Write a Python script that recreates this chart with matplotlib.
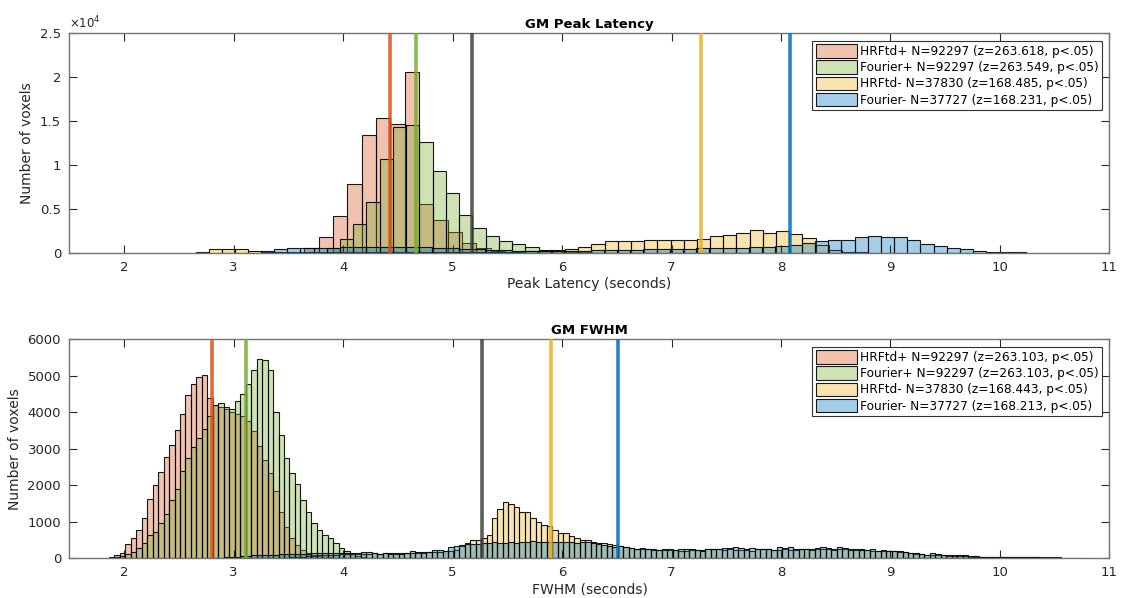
import numpy as np
import matplotlib
matplotlib.use("Agg")
import matplotlib.pyplot as plt

plt.rcParams['font.family'] = ['DejaVu Sans']

# ---------------- data: GM Peak Latency ----------------
lat_labels = ['HRFtd+ N=92297 (z=263.618, p<.05)',
              'Fourier+ N=92297 (z=263.549, p<.05)',
              'HRFtd- N=37830 (z=168.485, p<.05)',
              'Fourier- N=37727 (z=168.231, p<.05)']
# bins: first edge, bin width, counts
lat_hrftd_pos_start, lat_hrftd_pos_width = 3.645, 0.131
lat_hrftd_pos = [500, 1750, 4200, 7800, 13400, 15400, 14700, 20600, 5500, 3750,
                 2350, 1150, 500, 200, 80]
lat_fourier_pos_start, lat_fourier_pos_width = 3.85, 0.121
lat_fourier_pos = [500, 1520, 3230, 5820, 10680, 14300, 14550, 12600, 9300, 6800,
                   4240, 2840, 1930, 1360, 990, 600, 300, 150, 80, 40]
lat_hrftd_neg_start, lat_hrftd_neg_width = 2.6525, 0.1205
lat_hrftd_neg = [100, 420, 420, 400, 150, 80, 60, 60, 70, 80,
                 90, 100, 110, 110, 120, 120, 120, 120, 110, 110,
                 100, 100, 100, 110, 130, 160, 200, 260, 400, 620,
                 1030, 1280, 1280, 1280, 1400, 1400, 1400, 1400, 1570, 1900,
                 2020, 2270, 2560, 2270, 2440, 2150, 1650, 850, 300, 120, 50]
lat_fourier_neg_start, lat_fourier_neg_width = 3.249, 0.1205
lat_fourier_neg = [150, 380, 490, 530, 560, 580, 640, 660, 680, 680,
                   660, 640, 600, 540, 480, 420, 360, 300, 260, 220,
                   200, 180, 180, 200, 240, 280, 300, 320, 340, 360,
                   380, 400, 450, 500, 540, 540, 560, 620, 640, 740,
                   910, 1120, 1320, 1400, 1400, 1780, 1900, 1780, 1780, 1400,
                   1030, 785, 540, 410, 165, 120, 50, 40]
lat_vlines = [4.43, 4.67, 5.18, 7.27, 8.08]
lat_yticks = [0, 5000, 10000, 15000, 20000, 25000]
lat_yticklabels = ['0', '0.5', '1', '1.5', '2', '2.5']

# ---------------- data: GM FWHM ----------------
fw_labels = ['HRFtd+ N=92297 (z=263.103, p<.05)',
             'Fourier+ N=92297 (z=263.103, p<.05)',
             'HRFtd- N=37830 (z=168.443, p<.05)',
             'Fourier- N=37727 (z=168.213, p<.05)']
fw_hrftd_pos_start, fw_hrftd_pos_width = 1.86, 0.05
fw_hrftd_pos = [20, 80, 130, 375, 540, 770, 1110, 1620, 1990, 2360,
                2760, 3110, 3520, 3950, 4480, 4780, 4960, 5030, 4400, 4200,
                4150, 4100, 4000, 3950, 3900, 3750, 3480, 3060, 2700, 2330,
                1830, 1270, 860, 550, 360, 220, 140, 90, 60, 40, 20]
fw_fourier_pos_start, fw_fourier_pos_width = 1.86, 0.05
fw_fourier_pos = [10, 40, 60, 100, 170, 270, 420, 620, 720, 960,
                  1200, 1580, 1900, 2400, 2750, 3050, 3300, 3550, 3900, 4200,
                  4250, 4150, 4100, 4300, 4500, 4780, 5150, 5470, 5430, 5170,
                  4010, 3380, 2740, 2330, 2030, 1600, 1270, 950, 770, 630,
                  540, 400, 280, 180, 110, 60, 30]
fw_hrftd_neg_start, fw_hrftd_neg_width = 3.51, 0.05
fw_hrftd_neg = [20, 30, 40, 50, 60, 70, 80, 85, 90, 100,
                105, 110, 115, 120, 120, 125, 120, 125, 130, 120,
                125, 130, 140, 150, 150, 160, 170, 170, 180, 200,
                220, 330, 420, 480, 500, 540, 630, 1090, 1340, 1530,
                1480, 1390, 1270, 1270, 1090, 1000, 910, 880, 770, 680,
                680, 590, 540, 500, 480, 450, 420, 400, 380, 350,
                320, 300, 280, 250, 240, 250, 230, 220, 210, 230,
                220, 190, 180, 210, 220, 230, 240, 250, 250, 230,
                240, 220, 220, 230, 200, 250, 240, 260, 230, 220,
                240, 220, 230, 250, 240, 230, 240, 260, 240, 230,
                250, 240, 230, 220, 240, 210, 200, 200, 190, 190,
                180, 170, 160, 130, 110, 100, 90, 80, 75, 70,
                60, 55, 50, 45, 40, 35, 30, 30, 30, 25,
                25, 25, 20, 20, 20, 20, 20, 15, 15, 15,
                15, 10, 10, 10, 10]
fw_fourier_neg_start, fw_fourier_neg_width = 2.91, 0.05
fw_fourier_neg = [20, 30, 40, 50, 60, 70, 80, 80, 90, 90,
                  100, 100, 110, 110, 120, 120, 130, 130, 140, 140,
                  150, 150, 150, 150, 130, 155, 155, 140, 110, 140,
                  110, 140, 110, 140, 180, 160, 160, 160, 220, 220,
                  190, 290, 330, 360, 385, 390, 380, 400, 420, 440,
                  420, 410, 430, 420, 440, 450, 460, 450, 440, 450,
                  440, 450, 440, 430, 420, 440, 440, 400, 385, 370,
                  340, 290, 330, 290, 265, 255, 265, 255, 240, 220,
                  250, 250, 220, 240, 240, 250, 220, 200, 240, 240,
                  250, 275, 275, 300, 275, 250, 275, 250, 250, 250,
                  220, 290, 275, 290, 250, 250, 250, 250, 285, 290,
                  275, 250, 290, 275, 250, 250, 220, 220, 250, 200,
                  220, 200, 200, 200, 175, 130, 130, 100, 80, 130,
                  100, 80, 90, 80, 70, 70, 65, 60, 35, 35,
                  30, 30, 30, 25, 25, 20, 20, 15, 15]
fw_vlines = [2.80, 3.11, 5.27, 5.90, 6.51]
fw_yticks = [0, 1000, 2000, 3000, 4000, 5000, 6000]
fw_yticklabels = ['0', '1000', '2000', '3000', '4000', '5000', '6000']

xticks = [2, 3, 4, 5, 6, 7, 8, 9, 10, 11]

# ---------------- style ----------------
c_red = (0.850, 0.325, 0.098)
c_green = (0.466, 0.674, 0.188)
c_yellow = (0.929, 0.694, 0.125)
c_blue = (0.000, 0.447, 0.741)
c_black = (0.25, 0.25, 0.25)
hist_colors = [c_red, c_green, c_yellow, c_blue]
line_colors = [c_red, c_green, c_black, c_yellow, c_blue]
axcol = (0.15, 0.15, 0.15)
face_alpha = 0.35

fig = plt.figure(figsize=(11.22, 5.98), dpi=100)
ax1 = fig.add_axes([0.0619, 0.5775, 0.9269, 0.3668])
ax2 = fig.add_axes([0.0619, 0.0669, 0.9269, 0.3657])


def draw(ax, series, labels, vlines, yticks, yticklabels, ymax, title, xlabel):
    handles = []
    for (start, width, counts), col, lab in zip(series, hist_colors, labels):
        counts = np.asarray(counts, dtype=float)
        left = start + width * np.arange(len(counts))
        h = ax.bar(left, counts, width=width, align='edge',
                   facecolor=(*col, face_alpha), edgecolor=(0, 0, 0, 0.9),
                   linewidth=0.8, label=lab)
        handles.append(h)
    for xv, col in zip(vlines, line_colors):
        ax.axvline(xv, color=col, lw=2.6, alpha=0.85, zorder=5)
    ax.set_xlim(1.5, 11)
    ax.set_ylim(0, ymax)
    ax.set_xticks(xticks)
    ax.set_xticklabels([str(t) for t in xticks])
    ax.set_yticks(yticks)
    ax.set_yticklabels(yticklabels)
    ax.tick_params(direction='in', top=True, right=True, length=6, width=0.8,
                   colors=axcol, labelsize=9.5, pad=6)
    for s in ax.spines.values():
        s.set_color((0.45, 0.45, 0.45))
        s.set_linewidth(1.0)
    ax.set_title(title, fontsize=9.5, fontweight='bold', color='black', pad=4)
    ax.set_xlabel(xlabel, fontsize=10, color=axcol, labelpad=2)
    ax.set_ylabel('Number of voxels', fontsize=10, color=axcol, labelpad=4)
    leg = ax.legend(handles=handles, loc='upper right', fontsize=8.7,
                    frameon=True, fancybox=False, framealpha=1,
                    edgecolor=(0.2, 0.2, 0.2), borderpad=0.3,
                    labelspacing=0.2, handlelength=3.4, handleheight=1.35,
                    handletextpad=0.25, borderaxespad=0.6)
    leg.get_frame().set_linewidth(0.8)
    leg.set_zorder(10)


draw(ax1,
     [(lat_hrftd_pos_start, lat_hrftd_pos_width, lat_hrftd_pos),
      (lat_fourier_pos_start, lat_fourier_pos_width, lat_fourier_pos),
      (lat_hrftd_neg_start, lat_hrftd_neg_width, lat_hrftd_neg),
      (lat_fourier_neg_start, lat_fourier_neg_width, lat_fourier_neg)],
     lat_labels, lat_vlines, lat_yticks, lat_yticklabels, 25000,
     'GM Peak Latency', 'Peak Latency (seconds)')
ax1.text(0.0, 1.01, r'$\times 10^{4}$', transform=ax1.transAxes,
         ha='left', va='bottom', fontsize=8.5, color=axcol)

draw(ax2,
     [(fw_hrftd_pos_start, fw_hrftd_pos_width, fw_hrftd_pos),
      (fw_fourier_pos_start, fw_fourier_pos_width, fw_fourier_pos),
      (fw_hrftd_neg_start, fw_hrftd_neg_width, fw_hrftd_neg),
      (fw_fourier_neg_start, fw_fourier_neg_width, fw_fourier_neg)],
     fw_labels, fw_vlines, fw_yticks, fw_yticklabels, 6000,
     'GM FWHM', 'FWHM (seconds)')

fig.savefig('out.png', dpi=100)
